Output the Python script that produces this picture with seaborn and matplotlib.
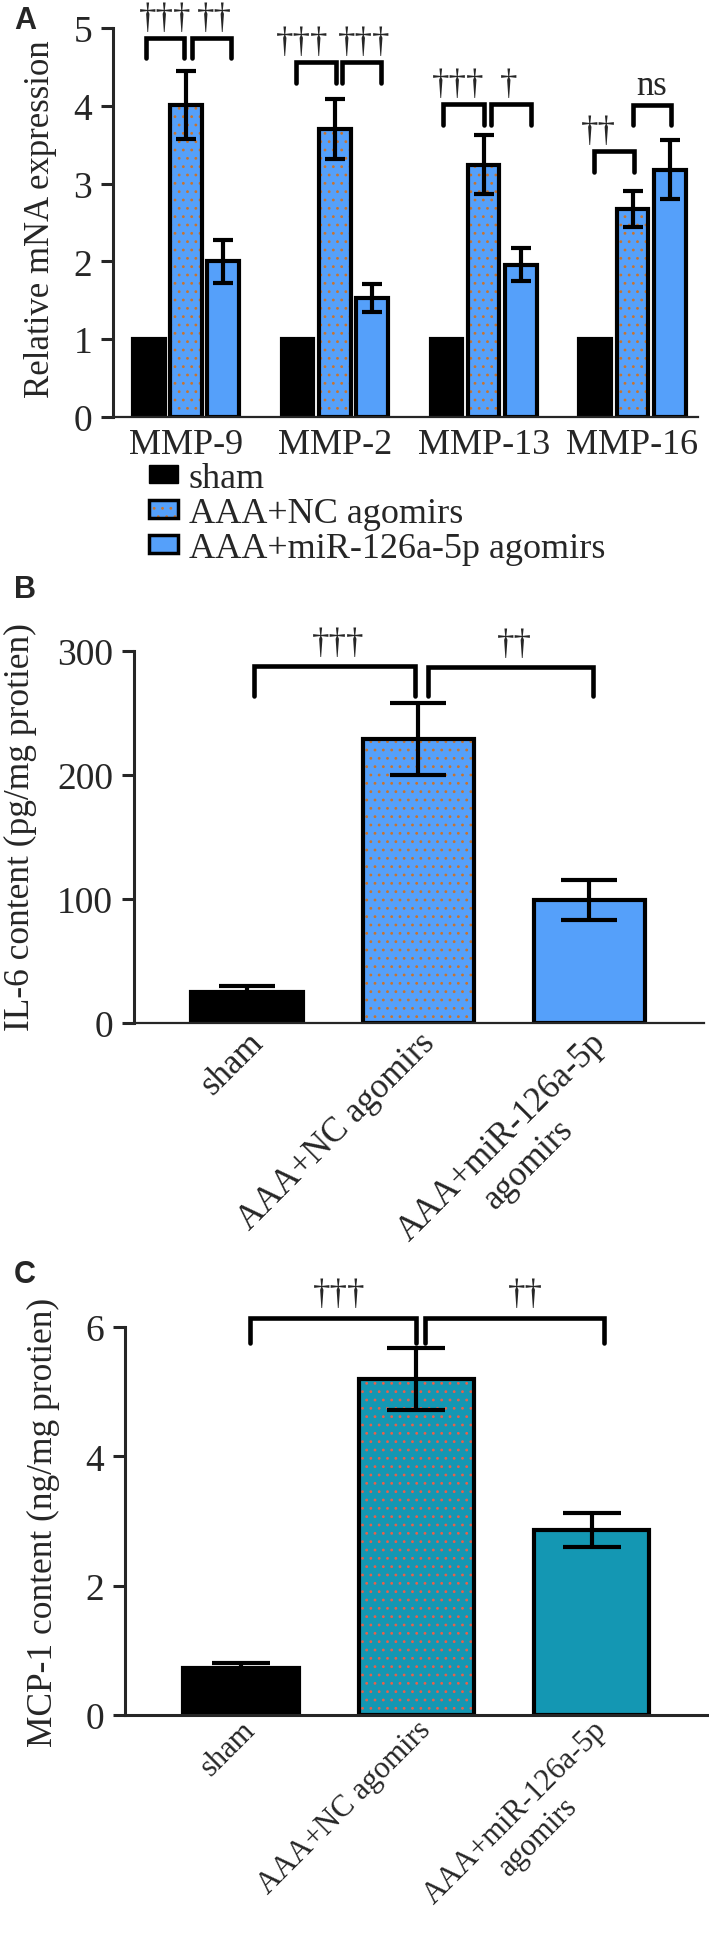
import matplotlib
matplotlib.use("Agg")
import pandas as pd
import matplotlib.pyplot as plt
import seaborn as sns
from matplotlib.patches import Patch, Rectangle

# ---- data -------------------------------------------------------------
# Panel A: relative mRNA expression
genes = ["MMP-9", "MMP-2", "MMP-13", "MMP-16"]
groups = ["sham", "AAA+NC agomirs", "AAA+miR-126a-5p agomirs"]
sham_a = [1.0, 1.0, 1.0, 1.0]
nc_a = [4.01, 3.70, 3.24, 2.67]
mir_a = [2.00, 1.53, 1.96, 3.18]
nc_a_err = [0.44, 0.39, 0.38, 0.23]
mir_a_err = [0.28, 0.18, 0.21, 0.38]

# Panel B: IL-6 content
bc_labels = ["sham", "AAA+NC agomirs", "AAA+miR-126a-5p\nagomirs"]
il6 = [25, 229, 99]
il6_err = [5, 29, 16]

# Panel C: MCP-1 content
mcp1 = [0.72, 5.19, 2.86]
mcp1_err = [0.09, 0.48, 0.26]

# significance brackets: (group, x0 offset, x1 offset, top, leg, label, label x offset)
sig_a = [
    (0, -0.27, -0.01, 4.87, 4.61, "†††", -0.14),
    (0, 0.04, 0.30, 4.87, 4.61, "††", 0.19),
    (1, -0.26, 0.01, 4.56, 4.29, "†††", -0.22),
    (1, 0.05, 0.31, 4.56, 4.29, "†††", 0.20),
    (2, -0.27, 0.00, 4.02, 3.75, "†††", -0.17),
    (2, 0.05, 0.32, 4.02, 3.75, "†", 0.17),
    (3, -0.26, 0.01, 3.42, 3.15, "††", -0.23),
    (3, 0.00, 0.26, 4.01, 3.75, "ns", 0.13),
]
sig_b = [(0.04, 0.98, 288, 264, "†††", 0.53), (1.06, 2.02, 287, 264, "††", 1.56)]
sig_c = [(0.05, 1.00, 6.14, 5.75, "†††", 0.56), (1.05, 2.07, 6.14, 5.75, "††", 1.62)]

# ---- style ------------------------------------------------------------
BLUE = "#55A0FA"
DOT_ORANGE = "#C8742E"
TEAL = "#1497B3"
DOT_RED = "#E8604A"
W, H = 709, 1940

sns.set_style("ticks")
plt.rcParams["font.family"] = ["Liberation Serif", "DejaVu Serif"]
plt.rcParams["hatch.linewidth"] = 0.8
plt.rcParams["axes.linewidth"] = 2.2

fig = plt.figure(figsize=(W / 100, H / 100), dpi=100)


def px_axes(left, top, right, bottom):
    return fig.add_axes([left / W, 1 - bottom / H, (right - left) / W, (bottom - top) / H])


def dot_fill(ax, patch, dot_color, lw=3):
    x, y = patch.get_xy()
    patch.set_hatch("..")
    patch.set_edgecolor(dot_color)
    patch.set_linewidth(0)
    ax.add_patch(Rectangle((x, y), patch.get_width(), patch.get_height(), fill=False,
                           edgecolor="black", linewidth=lw, zorder=patch.get_zorder() + 0.1))


def bracket(ax, x0, x1, top, leg, label, lx, dy, size):
    ax.plot([x0, x0, x1, x1], [leg, top, top, leg], color="black", lw=3.3,
            solid_joinstyle="miter", clip_on=False, zorder=5)
    ax.text(lx, top + dy, label, ha="center", va="bottom", fontsize=size, clip_on=False)


def style_axis(ax, ylabel, ticks, label_x, label_y, tick_size, label_size):
    sns.despine(ax=ax)
    ax.set_yticks(ticks)
    ax.tick_params(axis="y", length=9, width=2.2, labelsize=tick_size, pad=6)
    ax.tick_params(axis="x", length=0)
    ax.set_xlabel("")
    ax.set_ylabel(ylabel, fontsize=label_size)
    ax.yaxis.set_label_coords(label_x, label_y)


# ---- panel A ----------------------------------------------------------
df_a = pd.DataFrame({
    "gene": genes * 3,
    "group": [g for g in groups for _ in genes],
    "value": sham_a + nc_a + mir_a,
})
ax_a = px_axes(113, 29, 698, 418)
sns.barplot(data=df_a, x="gene", y="value", hue="group", hue_order=groups,
            palette=["black", BLUE, BLUE], saturation=1, width=0.75, gap=0.15,
            errorbar=None, edgecolor="black", linewidth=3, legend=False, ax=ax_a)
for p in ax_a.containers[1]:
    dot_fill(ax_a, p, DOT_ORANGE)
for cont, vals, errs in [(ax_a.containers[1], nc_a, nc_a_err), (ax_a.containers[2], mir_a, mir_a_err)]:
    xs = [p.get_x() + p.get_width() / 2 for p in cont]
    ax_a.errorbar(xs, vals, yerr=errs, fmt="none", ecolor="black", elinewidth=3,
                  capsize=7.5, capthick=3, zorder=6)
ax_a.set_ylim(0, 5)
ax_a.set_xlim(-0.49, 3.44)
style_axis(ax_a, "Relative mNA expression", range(6), -0.096, 0.51, 27, 25)
ax_a.tick_params(axis="x", labelsize=26, pad=8)
ax_a.spines["bottom"].set_linewidth(1.6)
for g, x0, x1, top, leg, lab, lx in sig_a:
    bracket(ax_a, g + x0, g + x1, top, leg, lab, g + lx, 0.04, 25)

legend_handles = [
    Patch(facecolor="black", edgecolor="black"),
    (Patch(facecolor=BLUE, edgecolor=DOT_ORANGE, linewidth=0, hatch=".."),
     Patch(fill=False, edgecolor="black", linewidth=2.5)),
    Patch(facecolor=BLUE, edgecolor="black", linewidth=2.5),
]
fig.legend(legend_handles, groups, loc="upper left", bbox_to_anchor=(149 / W, 1 - 463 / H),
           frameon=False, fontsize=26, handlelength=0.8, handleheight=0.4,
           handletextpad=0.3, labelspacing=0.05, borderpad=0, borderaxespad=0)

# ---- panel B ----------------------------------------------------------
ax_b = px_axes(134, 652, 704, 1024)
sns.barplot(x=bc_labels, y=il6, hue=bc_labels, palette=["black", BLUE, BLUE],
            saturation=1, width=0.65, errorbar=None, edgecolor="black", linewidth=3,
            legend=False, ax=ax_b)
bars_b = sorted(ax_b.patches, key=lambda p: p.get_x())
dot_fill(ax_b, bars_b[1], DOT_ORANGE)
ax_b.errorbar([p.get_x() + p.get_width() / 2 for p in bars_b], il6, yerr=il6_err,
              fmt="none", ecolor="black", elinewidth=3, capsize=20, capthick=3, zorder=6)
ax_b.set_ylim(0, 300)
ax_b.set_xlim(-0.66, 2.67)
style_axis(ax_b, "IL-6 content (pg/mg protien)", [0, 100, 200, 300], -0.17, 0.53, 27, 25.5)
ax_b.set_xticks(range(3))
ax_b.set_xticklabels(bc_labels, rotation=45, ha="right", va="top", rotation_mode="anchor",
                     multialignment="center", fontsize=25)
ax_b.tick_params(axis="x", pad=2)
ax_b.spines["bottom"].set_linewidth(1.6)
for x0, x1, top, leg, lab, lx in sig_b:
    bracket(ax_b, x0, x1, top, leg, lab, lx, 5, 25)

# ---- panel C ----------------------------------------------------------
ax_c = px_axes(125, 1328, 709, 1716)
sns.barplot(x=bc_labels, y=mcp1, hue=bc_labels, palette=["black", TEAL, TEAL],
            saturation=1, width=0.66, errorbar=None, edgecolor="black", linewidth=3,
            legend=False, ax=ax_c)
bars_c = sorted(ax_c.patches, key=lambda p: p.get_x())
dot_fill(ax_c, bars_c[1], DOT_RED)
ax_c.errorbar([p.get_x() + p.get_width() / 2 for p in bars_c], mcp1, yerr=mcp1_err,
              fmt="none", ecolor="black", elinewidth=3, capsize=21, capthick=3, zorder=6)
ax_c.set_ylim(0, 6)
ax_c.set_xlim(-0.663, 2.67)
style_axis(ax_c, "MCP-1 content (ng/mg protien)", [0, 2, 4, 6], -0.111, 0.5, 27, 25.5)
ax_c.set_xticks(range(3))
ax_c.set_xticklabels(bc_labels, rotation=45, ha="right", va="top", rotation_mode="anchor",
                     multialignment="center", fontsize=22)
ax_c.tick_params(axis="x", pad=0)
for x0, x1, top, leg, lab, lx in sig_c:
    bracket(ax_c, x0, x1, top, leg, lab, lx, 0.1, 25)

# panel letters
for letter, y in [("A", 21), ("B", 590), ("C", 1275)]:
    fig.text(25 / W, 1 - y / H, letter, ha="center", va="center", fontsize=22,
             fontweight="bold", family=["Liberation Sans", "DejaVu Sans"])

fig.savefig("out.png", dpi=100)
